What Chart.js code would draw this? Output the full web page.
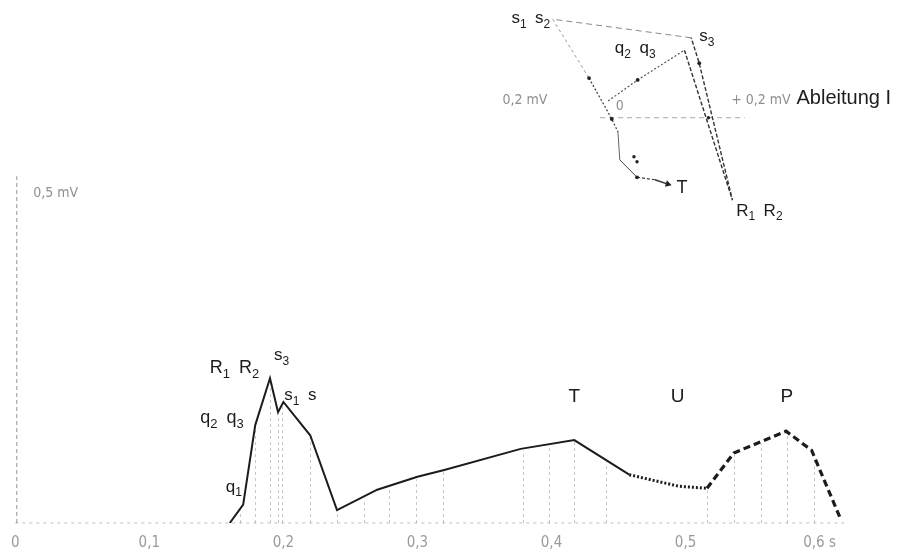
<!DOCTYPE html>
<html>
<head>
<meta charset="utf-8">
<title>Ableitung I</title>
<script src="https://cdn.jsdelivr.net/npm/chart.js@4.4.1/dist/chart.umd.min.js"></script>
<style>
  html, body { margin: 0; padding: 0; background: #fff; }
  #wrap { width: 911px; height: 552px; position: relative; }
</style>
</head>
<body>
<div id="wrap"><canvas id="ecg" width="911" height="552"></canvas></div>
<script>
// Ableitung I: time in s, amplitude in mV
const qrstTime = [0.160, 0.170, 0.179, 0.190, 0.196, 0.200, 0.220, 0.240, 0.270, 0.300, 0.320, 0.377, 0.417, 0.458];
const qrstMv   = [0.000, 0.027, 0.144, 0.213, 0.163, 0.178, 0.129, 0.019, 0.049, 0.068, 0.078, 0.109, 0.122, 0.071];
const uTime = [0.458, 0.495, 0.516];
const uMv   = [0.071, 0.054, 0.051];
const pTime = [0.516, 0.536, 0.575, 0.594, 0.615];
const pMv   = [0.051, 0.103, 0.135, 0.107, 0.009];

// vertical hatching under the curve (s)
const hatchTime = [0.168, 0.179, 0.190, 0.196, 0.199, 0.220, 0.240, 0.260, 0.279, 0.299, 0.319,
                   0.379, 0.398, 0.417, 0.441, 0.516, 0.536, 0.556, 0.576, 0.596];

const xTickValues = [0, 0.1, 0.2, 0.3, 0.4, 0.5, 0.6];
const xTickLabels = ['0', '0,1', '0,2', '0,3', '0,4', '0,5', '0,6 s'];

// frontal vector loop (mV), traced from the zero point
const loopX = [0, 0.048, 0.124, 0.202, 0.148, 0.135, -0.090, -0.031, 0.006, 0.016, 0.019, 0.047, 0.076, 0.097];
const loopY = [0, 0.034, 0.082, -0.160, 0.061, 0.102, 0.132, 0.037, -0.029, -0.050, -0.095, -0.123, -0.127, -0.134];
const loopDotIdx = [1, 4, 7, 8, 11];
const markX = [0.042, 0.047, 0.163];
const markY = [-0.090, -0.098, -0.027];

// lead I axis of the loop (mV)
const leadAxisLevel = -0.027;
const leadAxisFrom = -0.013;
const leadAxisTo = 0.222;

const INK = '#1c1c1c';
const GREY = '#8f8f8f';
const SANS = "'Liberation Sans', Arial, sans-serif";
const NARROW = "'DejaVu Sans Condensed', 'DejaVu Sans', sans-serif";

// per-segment look of the loop
const loopSeg = [
  { dash: [2, 2], color: '#555', w: 1.2 },
  { dash: [2, 2], color: '#555', w: 1.2 },
  { dash: [4, 2], color: '#333', w: 1.4 },
  { dash: [4, 2], color: '#333', w: 1.4 },
  { dash: [4, 2], color: '#333', w: 1.4 },
  { dash: [6, 4], color: '#888', w: 1.0 },
  { dash: [3, 3], color: '#999', w: 1.0 },
  { dash: [2, 2], color: '#444', w: 1.3 },
  { dash: [2, 2], color: '#444', w: 1.3 },
  { dash: [],     color: '#666', w: 1.0 },
  { dash: [],     color: '#444', w: 1.0 },
  { dash: [3, 2], color: '#444', w: 1.2 },
  { dash: [],     color: '#333', w: 1.4 }
];

// wave labels, anchored in time / mV
const waveLabels = [
  { text: 'R_1 R_2', t: 0.145, mv: 0.220, size: 18, align: 'left' },
  { text: 's_3',     t: 0.193, mv: 0.240, size: 17, align: 'left' },
  { text: 's_1 s',   t: 0.2007, mv: 0.181, size: 17, align: 'left' },
  { text: 'q_2 q_3', t: 0.138, mv: 0.147, size: 18, align: 'left' },
  { text: 'q_1',     t: 0.157, mv: 0.046, size: 17, align: 'left' },
  { text: 'T',       t: 0.417, mv: 0.178, size: 19, align: 'center' },
  { text: 'U',       t: 0.494, mv: 0.178, size: 19, align: 'center' },
  { text: 'P',       t: 0.5756, mv: 0.178, size: 19, align: 'center' }
];

// loop labels, anchored in mV of the loop plane
const loopLabels = [
  { text: 's_1 s_2', x: -0.094, y: 0.126, size: 17, align: 'right' },
  { text: 'q_2 q_3', x: 0.011,  y: 0.077, size: 17, align: 'left' },
  { text: 's_3',     x: 0.148,  y: 0.097, size: 17, align: 'left' },
  { text: 'T',       x: 0.111,  y: -0.148, size: 18, align: 'left' },
  { text: 'R_1 R_2', x: 0.208,  y: -0.185, size: 17, align: 'left' },
  { text: 'Ableitung I', x: 0.306, y: -0.005, size: 20, align: 'left' }
];

const toPts = (xs, ys) => xs.map((v, i) => ({ x: v, y: ys[i] }));

// draw text with "_n" subscripts; wave names get a wider word gap
function drawRich(ctx, text, px, py, size, align, color, family) {
  const hasSub = text.includes('_');
  const parts = [];
  for (let i = 0; i < text.length; i++) {
    if (text[i] === '_' && i + 1 < text.length) { parts.push({ s: text[i + 1], sub: true }); i++; }
    else parts.push({ s: text[i], sub: false });
  }
  const subSize = Math.round(size * 0.72);
  const fontMain = size + 'px ' + family;
  const fontSub = subSize + 'px ' + family;
  let total = 0;
  parts.forEach(p => {
    ctx.font = p.sub ? fontSub : fontMain;
    p.w = ctx.measureText(p.s).width * (hasSub && p.s === ' ' ? 1.8 : 1);
    total += p.w;
  });
  let cx = px;
  if (align === 'center') cx = px - total / 2;
  if (align === 'right') cx = px - total;
  ctx.fillStyle = color;
  ctx.textAlign = 'left';
  ctx.textBaseline = 'alphabetic';
  parts.forEach(p => {
    ctx.font = p.sub ? fontSub : fontMain;
    if (p.s !== ' ') ctx.fillText(p.s, cx, py + (p.sub ? size * 0.28 : 0));
    cx += p.w;
  });
}

const curveT = qrstTime.concat(uTime.slice(1), pTime.slice(1));
const curveV = qrstMv.concat(uMv.slice(1), pMv.slice(1));
function curveAt(t) {
  for (let i = 0; i < curveT.length - 1; i++) {
    if (t >= curveT[i] && t <= curveT[i + 1]) {
      const f = (t - curveT[i]) / (curveT[i + 1] - curveT[i]);
      return curveV[i] + f * (curveV[i + 1] - curveV[i]);
    }
  }
  return 0;
}

const decor = {
  id: 'decor',
  beforeDatasetsDraw(chart) {
    const { ctx, scales } = chart;
    const { x, y, ix, iy } = scales;
    const seg = (x1, y1, x2, y2) => { ctx.beginPath(); ctx.moveTo(x1, y1); ctx.lineTo(x2, y2); ctx.stroke(); };
    ctx.save();
    ctx.lineWidth = 1;

    // time baseline
    ctx.strokeStyle = 'rgba(0,0,0,0.25)';
    ctx.setLineDash([3, 4]);
    seg(x.getPixelForValue(0), y.getPixelForValue(0), x.getPixelForValue(0.62), y.getPixelForValue(0));

    // amplitude axis
    ctx.strokeStyle = 'rgba(0,0,0,0.42)';
    ctx.setLineDash([4, 3]);
    const x0 = x.getPixelForValue(0) + 1.5;
    seg(x0, y.getPixelForValue(0), x0, y.getPixelForValue(0.51));

    // hatching
    ctx.strokeStyle = 'rgba(0,0,0,0.22)';
    ctx.setLineDash([3, 3]);
    hatchTime.forEach(t => {
      const px = Math.round(x.getPixelForValue(t)) + 0.5;
      seg(px, y.getPixelForValue(0), px, y.getPixelForValue(curveAt(t)) + 2);
    });

    // lead I axis of the loop
    ctx.strokeStyle = 'rgba(0,0,0,0.35)';
    ctx.setLineDash([5, 4]);
    const ly = iy.getPixelForValue(leadAxisLevel);
    seg(ix.getPixelForValue(leadAxisFrom), ly, ix.getPixelForValue(leadAxisTo), ly);
    ctx.restore();
  },
  afterDatasetsDraw(chart) {
    const { ctx, scales } = chart;
    const { x, y, ix, iy } = scales;
    ctx.save();
    waveLabels.forEach(l => drawRich(ctx, l.text, x.getPixelForValue(l.t), y.getPixelForValue(l.mv), l.size, l.align, INK, SANS));
    loopLabels.forEach(l => drawRich(ctx, l.text, ix.getPixelForValue(l.x), iy.getPixelForValue(l.y), l.size, l.align, INK, SANS));

    // scale notes in grey
    ctx.fillStyle = GREY;
    ctx.textBaseline = 'middle';
    ctx.font = '14px ' + NARROW;
    ctx.textAlign = 'left';
    ctx.fillText('0,5 mV', x.getPixelForValue(0) + 18, y.getPixelForValue(0.485));
    ctx.fillText('+ 0,2 mV', ix.getPixelForValue(0.2), iy.getPixelForValue(0.001));
    ctx.textAlign = 'center';
    ctx.fillText('0,2 mV', ix.getPixelForValue(-0.135), iy.getPixelForValue(0.001));
    ctx.fillText('0', ix.getPixelForValue(0.019), iy.getPixelForValue(-0.008));
    ctx.restore();
  }
};

new Chart(document.getElementById('ecg'), {
  type: 'line',
  data: {
    datasets: [
      { label: 'QRST', data: toPts(qrstTime, qrstMv), xAxisID: 'x', yAxisID: 'y',
        borderColor: INK, borderWidth: 2, pointRadius: 0, tension: 0 },
      { label: 'U', data: toPts(uTime, uMv), xAxisID: 'x', yAxisID: 'y',
        borderColor: INK, borderWidth: 3, borderDash: [2, 2], pointRadius: 0, tension: 0 },
      { label: 'P', data: toPts(pTime, pMv), xAxisID: 'x', yAxisID: 'y',
        borderColor: INK, borderWidth: 3.2, borderDash: [7, 4], pointRadius: 0, tension: 0 },
      { label: 'Vektorschleife', data: toPts(loopX, loopY), xAxisID: 'ix', yAxisID: 'iy',
        tension: 0, borderColor: '#333', borderWidth: 1.2,
        segment: {
          borderDash: c => loopSeg[c.p0DataIndex].dash,
          borderColor: c => loopSeg[c.p0DataIndex].color,
          borderWidth: c => loopSeg[c.p0DataIndex].w
        },
        pointRadius: c => (c.dataIndex === loopX.length - 1 ? 4 : (loopDotIdx.includes(c.dataIndex) ? 1.9 : 0)),
        pointStyle: c => (c.dataIndex === loopX.length - 1 ? 'triangle' : 'circle'),
        rotation: 107,
        pointBackgroundColor: '#222', pointBorderColor: '#222', pointBorderWidth: 0 },
      { label: 'Punkte', type: 'scatter', data: toPts(markX, markY), xAxisID: 'ix', yAxisID: 'iy',
        pointRadius: 1.7, pointBackgroundColor: '#222', pointBorderWidth: 0, showLine: false }
    ]
  },
  options: {
    responsive: false,
    animation: false,
    events: [],
    layout: { padding: { left: 11, right: 2, top: 10, bottom: 0 } },
    plugins: { legend: { display: false }, tooltip: { enabled: false } },
    scales: {
      x: {
        type: 'linear', min: 0, max: 0.6652,
        afterBuildTicks: s => { s.ticks = xTickValues.map(v => ({ value: v })); },
        afterFit: s => { s.height = 29; },
        ticks: {
          callback: v => xTickLabels[xTickValues.indexOf(v)],
          color: '#9a9a9a', padding: 11, maxRotation: 0, autoSkip: false,
          font: { family: NARROW, size: 15 }
        },
        grid: { display: false, drawTicks: false },
        border: { display: false }
      },
      y: { type: 'linear', min: 0, max: 0.7544, display: false },
      ix: { type: 'linear', min: -0.9629, max: 0.4855, display: false },
      iy: { type: 'linear', min: -0.6806, max: 0.1468, display: false }
    }
  },
  plugins: [decor]
});
</script>
</body>
</html>
